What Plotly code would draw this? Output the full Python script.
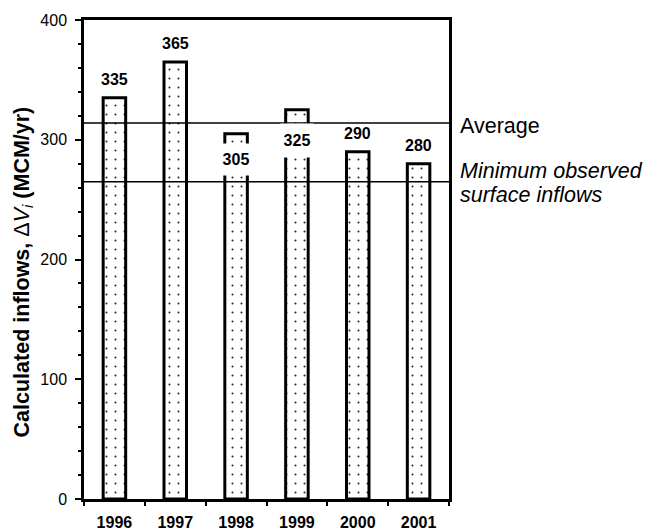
import plotly.graph_objects as go

# Calculated annual inflows (MCM/yr)
years = ["1996", "1997", "1998", "1999", "2000", "2001"]
inflows = [335, 365, 305, 325, 290, 280]

# Reference levels drawn as horizontal lines
average_inflow = 314
min_observed_inflow = 265

y_ticks = [0, 100, 200, 300, 400]

y_title = "<b>Calculated inflows, </b>Δ<i>V<sub>i</sub></i><b> (MCM/yr)</b>"

# Vertical pixel offset of each value label from its bar top
# (negative = label sits inside the bar, on a white patch)
label_shift = [18, 18, -26, -31, 18, 18]

FONT = "Arial, Liberation Sans, sans-serif"

fig = go.Figure()

fig.add_trace(go.Bar(
    x=years,
    y=inflows,
    width=0.37,
    marker=dict(
        color="white",
        line=dict(color="black", width=3),
        pattern=dict(shape=".", size=9, solidity=0.04,
                     fgcolor="#222222", bgcolor="white", fillmode="replace"),
    ),
    hoverinfo="x+y",
    showlegend=False,
))

annotations = []
for i, (v, s) in enumerate(zip(inflows, label_shift)):
    # category index as x so that numeric-looking year strings stay categories
    ann = dict(
        x=i, y=v, xref="x", yref="y",
        text=f"<b>{v}</b>", showarrow=False,
        font=dict(family=FONT, size=16, color="black"),
        xanchor="center", yanchor="middle", yshift=s,
    )
    if s < 0:
        ann.update(bgcolor="white", width=32, height=31 if v < 310 else 33, borderpad=0)
    annotations.append(ann)

# Labels for the horizontal reference lines
annotations += [
    dict(x=1, y=average_inflow, xref="paper", yref="y", text="Average",
         showarrow=False, xanchor="left", yanchor="middle", xshift=9, yshift=-3,
         font=dict(family=FONT, size=21.5, color="black")),
    dict(x=1, y=min_observed_inflow, xref="paper", yref="y", text="<i>Minimum observed</i>",
         showarrow=False, xanchor="left", yanchor="middle", xshift=9, yshift=11,
         font=dict(family=FONT, size=21.5, color="black")),
    dict(x=1, y=min_observed_inflow, xref="paper", yref="y", text="<i>surface inflows</i>",
         showarrow=False, xanchor="left", yanchor="middle", xshift=9, yshift=-13,
         font=dict(family=FONT, size=21.5, color="black")),
    # y-axis title
    dict(x=0, y=0.473, xref="paper", yref="paper", text=y_title, textangle=-90,
         showarrow=False, xanchor="center", yanchor="middle", xshift=-61,
         font=dict(family=FONT, size=21.5, color="black")),
]

shapes = [
    dict(type="line", xref="paper", yref="y", x0=0, x1=1,
         y0=average_inflow, y1=average_inflow,
         line=dict(color="black", width=1.5), layer="above"),
    dict(type="line", xref="paper", yref="y", x0=0, x1=1,
         y0=min_observed_inflow, y1=min_observed_inflow,
         line=dict(color="black", width=1.5), layer="above"),
]

fig.update_layout(
    width=662, height=530,
    margin=dict(l=84, r=213, t=20, b=31, autoexpand=False),
    paper_bgcolor="white", plot_bgcolor="white",
    font=dict(family=FONT, color="black"),
    xaxis=dict(
        type="category",
        categoryorder="array", categoryarray=years,
        range=[-0.5, len(years) - 0.5],
        automargin=False,
        showline=True, linecolor="black", linewidth=2.5, mirror=True,
        ticks="outside", ticklen=4, tickwidth=1.5, tickcolor="black",
        tickson="boundaries", tickangle=0,
        tickfont=dict(family=FONT, size=16, color="black"),
        tickprefix="<b>", ticksuffix="</b>",
        ticklabelstandoff=7,
        showgrid=False, zeroline=False,
    ),
    yaxis=dict(
        range=[0, 400],
        tickvals=y_ticks,
        automargin=False,
        showline=True, linecolor="black", linewidth=2.5, mirror=True,
        ticks="outside", ticklen=6, tickwidth=1.5, tickcolor="black",
        minor=dict(dtick=20, ticks="outside", ticklen=3, tickwidth=1.5, tickcolor="black"),
        tickfont=dict(family=FONT, size=16, color="black"),
        ticklabelstandoff=5,
        showgrid=False, zeroline=False,
    ),
    # second axis on the same scale carries the inner half of the major ticks
    yaxis2=dict(
        range=[0, 400], overlaying="y", side="left", anchor="x",
        automargin=False,
        tickvals=y_ticks, ticks="inside", ticklen=5, tickwidth=1.5, tickcolor="black",
        showticklabels=False, showline=False, showgrid=False, zeroline=False,
    ),
    shapes=shapes,
    annotations=annotations,
)

fig.write_html("out.html")
